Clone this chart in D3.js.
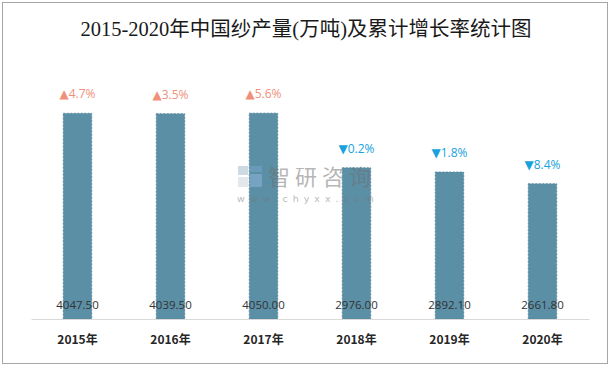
<!DOCTYPE html>
<html><head><meta charset="utf-8">
<script src="https://cdn.jsdelivr.net/npm/d3@7"></script>
<style>body{margin:0;background:#fff}svg{display:block}</style>
</head><body>
<svg id="c" width="612" height="368"></svg>
<script>
const categories = ["2015年","2016年","2017年","2018年","2019年","2020年"];
const output = [4047.5, 4039.5, 4050.0, 2976.0, 2892.1, 2661.8];
const growth = [4.7, 3.5, 5.6, -0.2, -1.8, -8.4];
const title = "2015-2020年中国纱产量(万吨)及累计增长率统计图";

const svg = d3.select("#c");
const W = 612, H = 368;
const m = {left:31, right:23, top:90, bottom:49};
const x = d3.scaleBand().domain(categories).range([m.left, W - m.right]).paddingInner(0.694).paddingOuter(0.347);
const y = d3.scaleLinear().domain([0, 4500]).range([H - m.bottom, H - m.bottom - 228.7]);

// border
svg.append("rect").attr("x",2.5).attr("y",2.5).attr("width",605).attr("height",361)
  .attr("fill","#fff").attr("stroke","#a6a6a6").attr("stroke-width",1);

// title
svg.append("text").attr("x",306).attr("y",36).attr("text-anchor","middle")
  .attr("font-family","'Liberation Serif','Noto Sans CJK SC',serif").attr("font-size",20.5)
  .attr("fill","#1a1a1a").text(title);

// bars
svg.append("g").selectAll("rect").data(output).join("rect")
  .attr("x",(d,i)=>x(categories[i])).attr("width",x.bandwidth())
  .attr("y",d=>y(d)).attr("height",d=>y(0)-y(d))
  .attr("fill","#5b8fa6").attr("stroke","#4f8198").attr("stroke-width",0.8).attr("stroke-dasharray","2,1.5");

// watermark
const wm = svg.append("g").attr("opacity",0.5);
wm.append("rect").attr("x",238).attr("y",166).attr("width",10).attr("height",9).attr("fill","#9fb6c8");
wm.append("rect").attr("x",238).attr("y",177).attr("width",10).attr("height",10).attr("fill","#c8d3dc");
wm.append("rect").attr("x",250).attr("y",166).attr("width",12).attr("height",6).attr("fill","#7ca6cc");
wm.append("rect").attr("x",250).attr("y",174).attr("width",12).attr("height",13).attr("fill","#8fb7dd");
wm.append("text").attr("x",268).attr("y",185).attr("font-family","'Noto Sans CJK SC',sans-serif")
  .attr("font-size",22).attr("letter-spacing",5).attr("fill","#6f6f6f").text("智研咨询");
wm.append("text").attr("x",237).attr("y",202).attr("font-family","'DejaVu Sans',sans-serif")
  .attr("font-size",9.5).attr("letter-spacing",5).attr("fill","#777").text("www.chyxx.com");

// axis
const xAxis = d3.axisBottom(x).tickSize(0).tickPadding(16);
const ag = svg.append("g").attr("transform",`translate(0,${y(0)})`).call(xAxis);
ag.select(".domain").attr("stroke","#d9d9d9").attr("stroke-width",1);
ag.selectAll("text").attr("font-family","'Noto Sans CJK SC',sans-serif").attr("font-size",12)
  .attr("font-weight","bold").attr("fill","#262626");

// value labels
svg.append("g").selectAll("text").data(output).join("text")
  .attr("x",(d,i)=>x(categories[i])+x.bandwidth()/2).attr("y",y(0)-10)
  .attr("text-anchor","middle").attr("font-family","'Open Sans','Noto Sans',sans-serif")
  .attr("font-size",11.5).attr("fill","#333").text(d=>d.toFixed(2));

// growth labels
const gl = svg.append("g").selectAll("text").data(growth).join("text")
  .attr("x",(d,i)=>x(categories[i])+x.bandwidth()/2).attr("y",(d,i)=>y(output[i])-15)
  .attr("text-anchor","middle").attr("font-family","'Open Sans','Noto Sans',sans-serif")
  .attr("font-size",12).attr("fill",d=>d>=0?"#f0907a":"#17a2dc");
gl.append("tspan").attr("font-family","'DejaVu Sans',sans-serif").attr("font-size",12)
  .text(d=>d>=0?"▲":"▼");
gl.append("tspan").text(d=>Math.abs(d).toFixed(1)+"%");
</script>
</body></html>
